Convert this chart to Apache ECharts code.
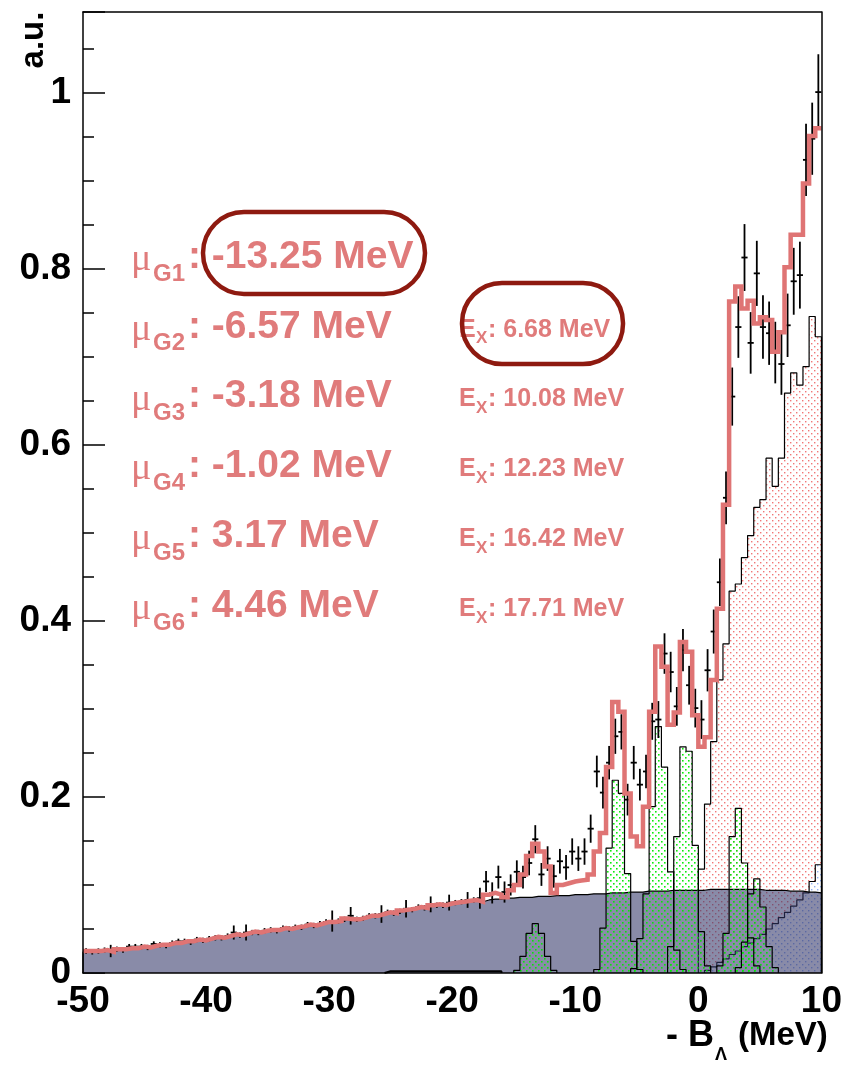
<!DOCTYPE html>
<html><head><meta charset="utf-8">
<script src="https://cdn.jsdelivr.net/npm/echarts@6/dist/echarts.min.js"></script>
<style>html,body{margin:0;padding:0;background:#fff}#c{width:845px;height:1069px}</style>
</head><body><div id="c"></div>
<script>
// ---------------- data ----------------
const X_MIN = -50, X_MAX = 10, BIN_W = 0.5;

// total fit (red line), per 0.5 MeV bin from -50 to 10
const FIT = [
 0.025,0.025,0.025,0.026,0.024,0.027,0.027,0.028,0.028,0.030,
 0.029,0.031,0.032,0.032,0.034,0.034,0.036,0.036,0.038,0.037,
 0.039,0.041,0.040,0.042,0.044,0.043,0.045,0.047,0.046,0.048,
 0.049,0.049,0.051,0.050,0.052,0.053,0.055,0.054,0.056,0.058,
 0.058,0.059,0.062,0.061,0.061,0.063,0.065,0.065,0.067,0.069,
 0.068,0.071,0.072,0.073,0.075,0.074,0.077,0.078,0.077,0.079,
 0.080,0.081,0.082,0.083,0.081,0.089,0.091,0.089,0.086,0.094,
 0.100,0.112,0.133,0.147,0.138,0.121,0.091,0.100,0.102,0.104,
 0.105,0.106,0.112,0.138,0.159,0.234,0.308,0.297,0.204,0.155,
 0.144,0.189,0.297,0.371,0.348,0.282,0.296,0.376,0.365,0.293,
 0.257,0.268,0.333,0.414,0.532,0.763,0.780,0.755,0.764,0.738,
 0.745,0.742,0.706,0.728,0.802,0.839,0.839,0.897,0.951,0.960];

// background (grey filled)
const BG = [
 0.024,0.024,0.024,0.025,0.023,0.026,0.026,0.027,0.027,0.029,
 0.028,0.030,0.031,0.031,0.033,0.033,0.035,0.035,0.037,0.036,
 0.038,0.040,0.039,0.041,0.043,0.042,0.044,0.046,0.045,0.047,
 0.048,0.048,0.050,0.049,0.051,0.052,0.054,0.053,0.055,0.057,
 0.057,0.058,0.061,0.060,0.060,0.062,0.064,0.064,0.066,0.068,
 0.067,0.070,0.071,0.072,0.074,0.073,0.076,0.077,0.076,0.078,
 0.079,0.080,0.081,0.082,0.081,0.083,0.084,0.084,0.085,0.085,
 0.086,0.086,0.086,0.087,0.087,0.087,0.088,0.088,0.088,0.089,
 0.089,0.089,0.090,0.090,0.090,0.091,0.091,0.091,0.092,0.092,
 0.092,0.093,0.093,0.093,0.093,0.094,0.094,0.094,0.094,0.094,
 0.094,0.095,0.095,0.095,0.095,0.095,0.095,0.095,0.095,0.095,
 0.094,0.094,0.094,0.094,0.093,0.093,0.093,0.092,0.092,0.091];

// measured points and errors
const DATA = [
 0.025,0.024,0.025,0.026,0.025,0.027,0.026,0.030,0.030,0.030,
 0.029,0.033,0.032,0.031,0.034,0.036,0.036,0.035,0.038,0.037,
 0.039,0.040,0.040,0.042,0.046,0.043,0.046,0.046,0.046,0.048,
 0.049,0.048,0.051,0.050,0.052,0.052,0.055,0.054,0.056,0.058,
 0.059,0.059,0.061,0.065,0.061,0.062,0.065,0.065,0.067,0.069,
 0.068,0.070,0.073,0.072,0.075,0.074,0.078,0.077,0.077,0.080,
 0.080,0.081,0.083,0.083,0.085,0.104,0.091,0.109,0.092,0.100,
 0.115,0.109,0.125,0.152,0.112,0.130,0.110,0.127,0.120,0.138,
 0.130,0.138,0.164,0.229,0.205,0.239,0.269,0.274,0.197,0.239,
 0.214,0.229,0.286,0.288,0.363,0.342,0.303,0.367,0.327,0.301,
 0.288,0.344,0.388,0.444,0.540,0.655,0.734,0.813,0.716,0.795,
 0.734,0.727,0.705,0.692,0.736,0.786,0.793,0.924,0.948,1.001];
const ERR = [
 0.003,0.003,0.003,0.003,0.007,0.003,0.003,0.003,0.003,0.003,
 0.003,0.003,0.003,0.003,0.003,0.003,0.003,0.003,0.003,0.003,
 0.003,0.003,0.003,0.003,0.008,0.003,0.009,0.003,0.003,0.003,
 0.003,0.003,0.003,0.003,0.003,0.003,0.003,0.003,0.003,0.003,
 0.012,0.003,0.003,0.010,0.003,0.003,0.003,0.003,0.010,0.003,
 0.003,0.003,0.010,0.003,0.003,0.003,0.009,0.003,0.003,0.009,
 0.003,0.003,0.009,0.003,0.012,0.012,0.012,0.013,0.012,0.012,
 0.013,0.013,0.014,0.016,0.013,0.014,0.013,0.014,0.014,0.015,
 0.014,0.015,0.016,0.018,0.018,0.019,0.020,0.020,0.018,0.019,
 0.018,0.019,0.021,0.021,0.023,0.023,0.022,0.024,0.022,0.022,
 0.022,0.024,0.025,0.027,0.030,0.033,0.035,0.038,0.035,0.037,
 0.036,0.036,0.035,0.035,0.036,0.038,0.038,0.041,0.041,0.043];

// quasi-free like components
const Q1_EDGE = 0.0;
const Q1 = [0.118,0.192,0.263,0.333,0.374,0.434,0.442,0.472,0.497,0.529,
            0.538,0.585,0.553,0.585,0.659,0.682,0.668,0.689,0.746,0.723];
const Q2_EDGE = 0.5;
const Q2 = [0.003,0.007,0.012,0.016,0.021,0.025,0.030,0.034,0.039,0.044,
            0.050,0.056,0.063,0.069,0.076,0.083,0.091,0.104,0.123];

// gaussian peaks
const G1_EDGE = -15.0, G1 = [0.003,0.019,0.045,0.056,0.045,0.019,0.003];
const G2_EDGE = -8.5,  G2 = [0.004,0.051,0.142,0.219,0.204,0.113,0.036,0.004];
const G3_EDGE = -5.5,  G3 = [0.005,0.039,0.090,0.189,0.280,0.234,0.115,0.026,0.004];
const G4_EDGE = -2.5,  G4 = [0.030,0.155,0.257,0.252,0.145,0.047,0.008];
const G5_EDGE = 1.5,   G5 = [0.008,0.045,0.155,0.187,0.125,0.040,0.008];
const G6_EDGE = 3.0,   G6 = [0.006,0.035,0.090,0.107,0.075,0.030,0.006];
const TAIL_EDGE = -25.5;
const TAIL = [0.002,0.002,0.002,0.002,0.002,0.002,0.002,0.002,0.002,0.002,
              0.002,0.002,0.002,0.002,0.002,0.002,0.002,0.002,0.002];

// annotation texts
const MU_SUBS = ['G1','G2','G3','G4','G5','G6'];
const MU_VALUES = ['-13.25 MeV','-6.57 MeV','-3.18 MeV','-1.02 MeV','3.17 MeV','4.46 MeV'];
const EX_VALUES = [null,'6.68 MeV','10.08 MeV','12.23 MeV','16.42 MeV','17.71 MeV'];

// ---------------- helpers ----------------
const FONT = "'Liberation Sans', Arial, Helvetica, sans-serif";
const ANN = '#e07b7b';
const RING = '#8e1a10';

function histPoints(edge, vals, closed) {
  const pts = [];
  if (closed) pts.push([edge, 0]);
  vals.forEach((v, i) => { const lo = edge + i * BIN_W; pts.push([lo, v], [lo + BIN_W, v]); });
  if (closed) pts.push([edge + vals.length * BIN_W, 0]);
  return pts;
}
function dotPattern(dot, base, sz) {
  const c = document.createElement('canvas');
  c.width = 6; c.height = 6;
  const g = c.getContext('2d');
  if (base) { g.fillStyle = base; g.fillRect(0, 0, 6, 6); }
  g.fillStyle = dot;
  g.fillRect(1, 1, sz, sz); g.fillRect(4, 4, sz, sz);
  return { image: c, repeat: 'repeat' };
}
function hist(edge, vals, area, z, lw) {
  return { type: 'line', data: histPoints(edge, vals, true), symbol: 'none', showSymbol: false,
    lineStyle: { color: '#000', width: lw || 1.2 }, areaStyle: area ? { color: area, opacity: 1 } : undefined,
    z: z, silent: true, animation: false, xAxisIndex: 0, yAxisIndex: 0 };
}

const pink = dotPattern('rgba(238,95,95,0.85)', null, 1.4);
const blue = dotPattern('rgba(140,170,240,0.95)', '#ffffff', 1.4);
const green = dotPattern('rgba(0,235,0,0.95)', null, 1.6);

const dataRows = DATA.map((v, i) => [X_MIN + (i + 0.5) * BIN_W, v, ERR[i]]);

const series = [
  hist(Q1_EDGE, Q1, pink, 2),
  hist(Q2_EDGE, Q2, blue, 3),
  hist(X_MIN, BG, 'rgba(52,55,105,0.58)', 4),
  hist(G1_EDGE, G1, green, 5),
  hist(G2_EDGE, G2, green, 5),
  hist(G3_EDGE, G3, green, 5),
  hist(G4_EDGE, G4, green, 5),
  hist(G5_EDGE, G5, green, 5),
  hist(G6_EDGE, G6, green, 5),
  hist(TAIL_EDGE, TAIL, null, 5, 2),
  { type: 'custom', data: dataRows, z: 6, silent: true, animation: false,
    renderItem: (params, api) => {
      const x = api.value(0), y = api.value(1), e = api.value(2);
      const c = api.coord([x, y]);
      const l = api.coord([x - BIN_W / 2, y]), r = api.coord([x + BIN_W / 2, y]);
      const t = api.coord([x, y + e]), b = api.coord([x, y - e]);
      const st = { stroke: '#000', lineWidth: 1.8 };
      return { type: 'group', children: [
        { type: 'line', shape: { x1: l[0], y1: c[1], x2: r[0], y2: c[1] }, style: st },
        { type: 'line', shape: { x1: c[0], y1: t[1], x2: c[0], y2: b[1] }, style: st }
      ]};
    } },
  { type: 'line', data: histPoints(X_MIN, FIT, false), symbol: 'none', showSymbol: false,
    lineStyle: { color: '#df7474', width: 4.5, join: 'miter' }, z: 7, silent: true, animation: false }
];

// ---------------- graphics (text annotations) ----------------
const graphics = [];
const ROW0 = 257, ROW_STEP = 69.8;
MU_SUBS.forEach((s, i) => {
  const cy = ROW0 + i * ROW_STEP;
  graphics.push({ type: 'text', x: 131, y: cy + 3, z: 50, style: { text: 'μ', font: "38px 'Liberation Serif', serif", fill: ANN, textVerticalAlign: 'middle' } });
  graphics.push({ type: 'text', x: 153, y: cy + 17, z: 50, style: { text: s, font: 'bold 24px ' + FONT, fill: ANN, textVerticalAlign: 'middle' } });
  graphics.push({ type: 'text', x: 188, y: cy, z: 50, style: { text: ': ' + MU_VALUES[i], font: 'bold 39px ' + FONT, fill: ANN, textVerticalAlign: 'middle' } });
  if (EX_VALUES[i]) {
    const ey = cy + 3;
    graphics.push({ type: 'text', x: 459, y: ey, z: 50, style: { text: 'E', font: 'bold 25px ' + FONT, fill: ANN, textVerticalAlign: 'middle' } });
    graphics.push({ type: 'text', x: 476, y: ey + 9, z: 50, style: { text: 'X', font: 'bold 17px ' + FONT, fill: ANN, textVerticalAlign: 'middle' } });
    graphics.push({ type: 'text', x: 488, y: ey, z: 50, style: { text: ': ' + EX_VALUES[i], font: 'bold 25px ' + FONT, fill: ANN, textVerticalAlign: 'middle' } });
  }
});
graphics.push({ type: 'rect', z: 51, shape: { x: 203, y: 212, width: 222, height: 82, r: 41 }, style: { fill: 'none', stroke: RING, lineWidth: 4.5 } });
graphics.push({ type: 'rect', z: 51, shape: { x: 462, y: 283, width: 161, height: 81, r: 40 }, style: { fill: 'none', stroke: RING, lineWidth: 4.5 } });
// axis titles
graphics.push({ type: 'text', x: 34, y: 40, rotation: Math.PI / 2, z: 50, style: { text: 'a.u.', font: 'bold 33px ' + FONT, fill: '#000', textAlign: 'center', textVerticalAlign: 'middle' } });
graphics.push({ type: 'text', x: 666, y: 1036, z: 50, style: { text: '- B', font: 'bold 36px ' + FONT, fill: '#000', textVerticalAlign: 'middle' } });
graphics.push({ type: 'text', x: 715, y: 1055, z: 50, style: { text: 'Λ', font: 'bold 18px ' + FONT, fill: '#000', textVerticalAlign: 'middle' } });
graphics.push({ type: 'text', x: 738, y: 1036, z: 50, style: { text: '(MeV)', font: 'bold 33px ' + FONT, fill: '#000', textVerticalAlign: 'middle' } });

// ---------------- axes ----------------
const Y_MAX = 1.092;
const frameLine = { show: true, onZero: false, lineStyle: { color: '#000', width: 1.5 } };
const hidden = { show: false };
const option = {
  animation: false,
  backgroundColor: '#fff',
  grid: { left: 83, right: 18, top: 12, bottom: 96, containLabel: false },
  xAxis: [
    { type: 'value', min: X_MIN, max: X_MAX, interval: 10, position: 'bottom', z: 0,
      axisLine: { show: false, onZero: false },
      axisTick: { show: false },
      axisLabel: { show: true, margin: 10, color: '#000', fontWeight: 'bold', fontSize: 37, fontFamily: FONT },
      splitLine: hidden },
    { type: 'value', min: X_MIN, max: X_MAX, position: 'top', z: 10, axisLine: frameLine, axisTick: hidden, axisLabel: hidden, splitLine: hidden },
    { type: 'value', min: X_MIN, max: X_MAX, position: 'bottom', z: 10, axisLine: frameLine, axisTick: hidden, axisLabel: hidden, splitLine: hidden }
  ],
  yAxis: [
    { type: 'value', min: 0, max: Y_MAX, interval: 0.2, position: 'left', z: 0,
      axisLine: { show: false, onZero: false },
      axisTick: { show: true, inside: true, length: 22, lineStyle: { color: '#000', width: 1.5 } },
      axisLabel: { show: true, margin: 12, color: '#000', fontWeight: 'bold', fontSize: 37, fontFamily: FONT,
        formatter: v => { const r = Math.round(v * 5) / 5; return Math.abs(v - r) < 1e-9 ? String(+r.toFixed(1)) : ''; } },
      splitLine: hidden },
    { type: 'value', min: 0, max: Y_MAX, interval: 0.05, position: 'left', z: 0,
      axisLine: { show: false, onZero: false },
      axisTick: { show: true, inside: true, length: 11, lineStyle: { color: '#000', width: 1.5 } },
      axisLabel: hidden, splitLine: hidden },
    { type: 'value', min: 0, max: Y_MAX, position: 'right', z: 10, axisLine: frameLine, axisTick: hidden, axisLabel: hidden, splitLine: hidden },
    { type: 'value', min: 0, max: Y_MAX, position: 'left', z: 10, axisLine: frameLine, axisTick: hidden, axisLabel: hidden, splitLine: hidden }
  ],
  series: series,
  graphic: graphics
};
const chart = echarts.init(document.getElementById('c'), null, { renderer: 'canvas', width: 845, height: 1069 });
chart.setOption(option);
</script></body></html>
